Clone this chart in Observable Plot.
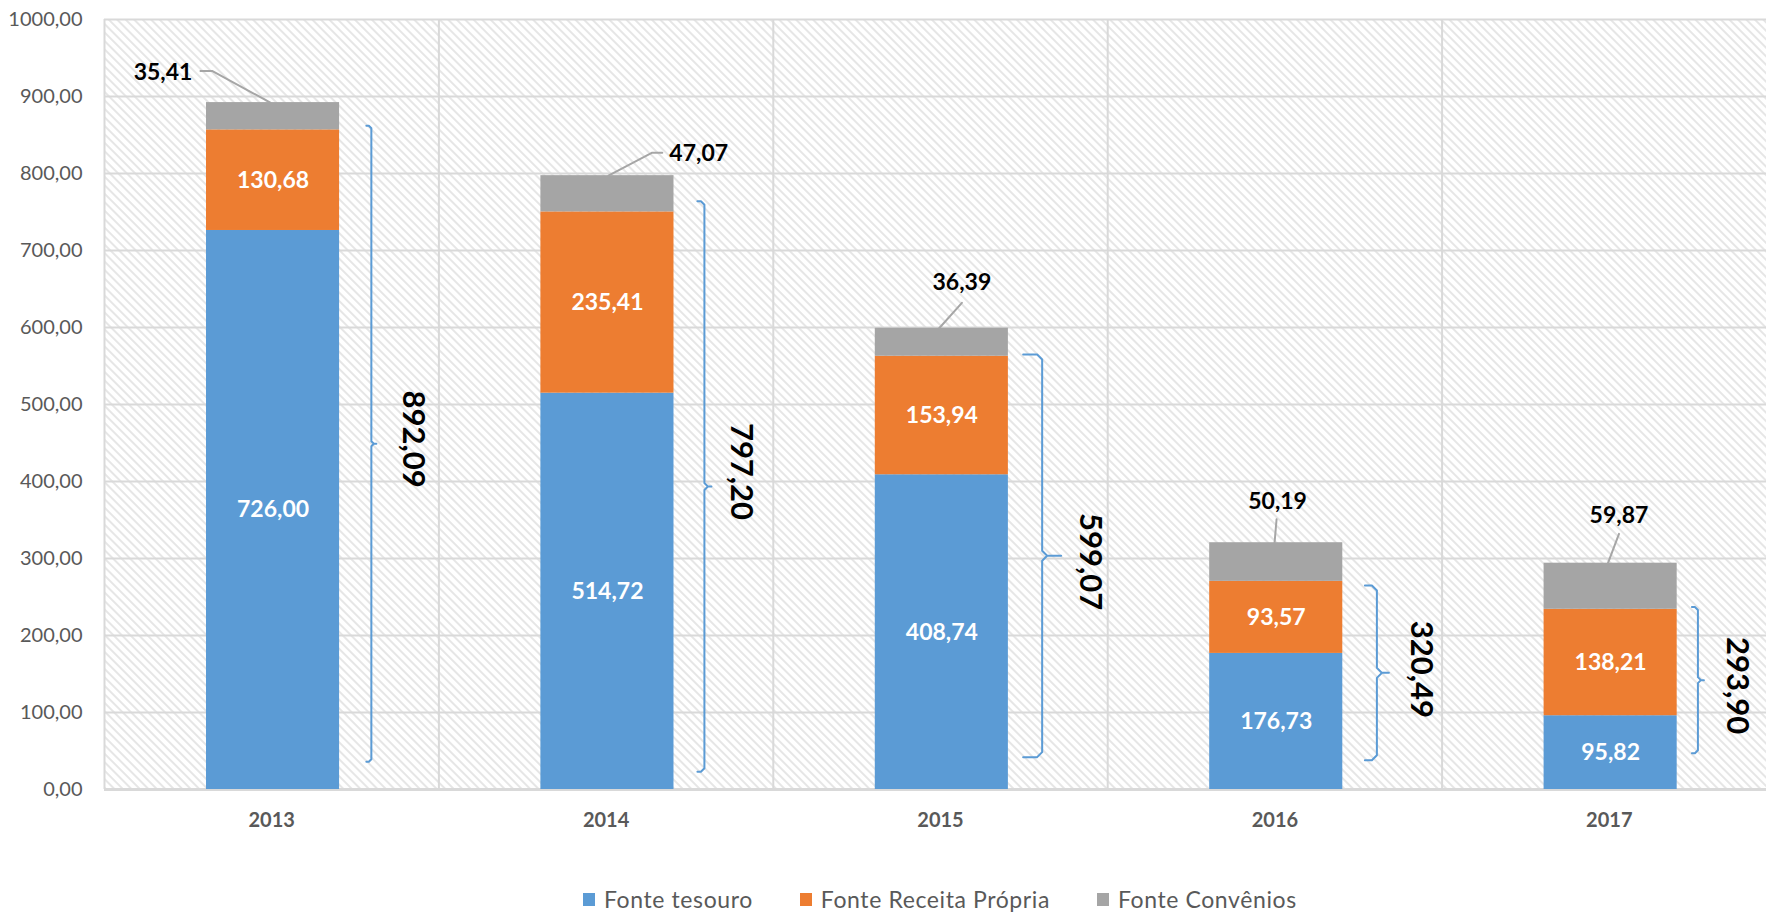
<!DOCTYPE html>
<html>
<head>
<meta charset="utf-8">
<script src="https://cdn.jsdelivr.net/npm/d3@7"></script>
<script src="https://cdn.jsdelivr.net/npm/@observablehq/plot@0.6"></script>
<style>
  html, body { margin: 0; padding: 0; background: #fff; }
  #wrap { position: relative; width: 1766px; height: 913px; overflow: hidden; font-family: Lato, "Open Sans", sans-serif; }
  #legend { position: absolute; left: 583px; top: 887px; display: flex; align-items: center; font-size: 23px; line-height: 24px; letter-spacing: 0.6px; color: #595959; white-space: nowrap; }
  #legend .item { display: flex; align-items: center; margin-right: 47px; }
  #legend .sw { width: 12px; height: 13px; margin-right: 9px; }
</style>
</head>
<body>
<div id="wrap"><div id="chart"></div><div id="legend"></div></div>
<script>
// ---- data ----
const years = ["2013", "2014", "2015", "2016", "2017"];
const tesouro = [726.00, 514.72, 408.74, 176.73, 95.82];
const receita = [130.68, 235.41, 153.94, 93.57, 138.21];
const convenios = [35.41, 47.07, 36.39, 50.19, 59.87];
const totals = [892.09, 797.20, 599.07, 320.49, 293.90];
const seriesNames = ["Fonte tesouro", "Fonte Receita Própria", "Fonte Convênios"];
const seriesColors = ["#5B9BD5", "#ED7D31", "#A5A5A5"];
const yTicks = [0, 100, 200, 300, 400, 500, 600, 700, 800, 900, 1000];

// ---- annotation layout (x in category units, y in value units) ----
const calloutLabelX = [0.175, 1.777, 2.564, 3.508, 4.529];
const calloutLabelY = [931, 826, 658, 374, 356];
const calloutLeaders = [
  [[0.287, 933], [0.323, 933], [0.496, 892.09]],
  [[1.668, 827], [1.638, 827], [1.507, 797.2]],
  [[2.564, 632], [2.496, 599.07]],
  [[3.505, 351], [3.499, 320.49]],
  [[4.529, 332], [4.496, 293.9]]
];
const braceX = [0.798, 1.794, 2.804, 3.805, 4.765];
const braceTop = [862, 764, 565, 265, 237];
const braceBottom = [36, 23, 42, 38, 47];
const braceHook = [5, 7, 19, 12, 6]; // px
const braceLabelX = [0.921, 1.904, 2.948, 3.937, 4.882];
const braceLabelY = [455, 413, 296, 156, 135];

const fmt = v => d3.format(".2f")(v).replace(".", ",");

// ---- build tables ----
const rows = [];
years.forEach((yr, i) => {
  let acc = 0;
  [tesouro, receita, convenios].forEach((arr, s) => {
    rows.push({i, year: yr, series: seriesNames[s], value: arr[i], y1: acc, y2: acc + arr[i]});
    acc += arr[i];
  });
});

const X0 = 104, X1 = 1776, Y0 = 789, Y1 = 19;
const pxX = (X1 - X0) / 5, pxY = (Y0 - Y1) / 1000;
const leaderPts = [];
calloutLeaders.forEach((pts, i) => pts.forEach(p => leaderPts.push({i, x: p[0], y: p[1]})));
const bracePts = [];
years.forEach((yr, i) => {
  const bx = braceX[i], top = braceTop[i], bot = braceBottom[i], h = braceHook[i], mid = (top + bot) / 2;
  const r = Math.min(h * 0.5, 5);
  const X = p => p / pxX, Y = p => p / pxY;
  [[bx - X(h), top], [bx - X(r), top], [bx, top - Y(r)], [bx, mid + Y(r)], [bx + X(r), mid], [bx + X(h), mid],
   [bx + X(r), mid], [bx, mid - Y(r)], [bx, bot + Y(r)], [bx - X(r), bot], [bx - X(h), bot]]
    .forEach(p => bracePts.push({i, x: p[0], y: p[1]}));
});

const svg = Plot.plot({
  width: 1766,
  height: 870,
  marginTop: Y1,
  marginBottom: 870 - Y0,
  marginLeft: X0,
  marginRight: 0,
  style: {fontFamily: "Lato, 'Open Sans', sans-serif", fontSize: "20px", color: "#595959", background: "white"},
  x: {domain: [0, 5], range: [X0, X1], axis: null},
  y: {domain: [0, 1000], ticks: 10, tickFormat: fmt, tickSize: 0, tickPadding: 22, label: null},
  color: {domain: seriesNames, range: seriesColors},
  marks: [
    Plot.frame({fill: "url(#hatch)", stroke: null}),
    Plot.ruleY(yTicks, {stroke: "#d9d9d9", strokeWidth: 2}),
    Plot.ruleX(d3.range(6), {stroke: "#d9d9d9", strokeWidth: 2}),
    Plot.ruleY([0], {stroke: "#d9d9d9", strokeWidth: 3}),
    Plot.rect(rows, {x1: d => d.i + 0.305, x2: d => d.i + 0.703, y1: "y1", y2: "y2", fill: "series"}),
    Plot.text(rows.filter(d => d.series !== seriesNames[2]), {
      x: d => d.i + 0.504, y: d => (d.y1 + d.y2) / 2, text: d => fmt(d.value),
      fill: "white", fontSize: 23, fontWeight: "bold"
    }),
    Plot.line(leaderPts, {x: "x", y: "y", z: "i", stroke: "#a6a6a6", strokeWidth: 2}),
    Plot.text(convenios, {
      x: (d, i) => calloutLabelX[i], y: (d, i) => calloutLabelY[i], text: d => fmt(d),
      fill: "black", fontSize: 23, fontWeight: "bold"
    }),
    Plot.line(bracePts, {x: "x", y: "y", z: "i", stroke: "#5B9BD5", strokeWidth: 2}),
    Plot.text(totals, {
      x: (d, i) => braceLabelX[i], y: (d, i) => braceLabelY[i], text: d => fmt(d),
      rotate: 90, fill: "black", fontSize: 31, fontWeight: "bold"
    }),
    Plot.text(years, {
      x: (d, i) => i + 0.5, y: 0, dy: 31, text: d => d,
      fill: "#595959", fontSize: 20, fontWeight: "bold"
    })
  ]
});

const defs = d3.select(svg).insert("defs", ":first-child");
const pat = defs.append("pattern").attr("id", "hatch").attr("patternUnits", "userSpaceOnUse")
  .attr("width", 6).attr("height", 6).attr("patternTransform", "rotate(-45)");
pat.append("rect").attr("width", 6).attr("height", 6).attr("fill", "white");
pat.append("line").attr("x1", 3).attr("y1", 0).attr("x2", 3).attr("y2", 6)
  .attr("stroke", "#e2e2e2").attr("stroke-width", 1.7);
const fr = svg.querySelector('[aria-label="frame"]');
if (fr) {
  const el = fr.tagName.toLowerCase() === "rect" ? fr : fr.querySelector("rect");
  if (el) el.setAttribute("fill", "url(#hatch)");
}

document.getElementById("chart").appendChild(svg);

const legend = d3.select("#legend");
seriesNames.forEach((n, i) => {
  const it = legend.append("div").attr("class", "item");
  it.append("div").attr("class", "sw").style("background", seriesColors[i]);
  it.append("span").text(n);
});
</script>
</body>
</html>
